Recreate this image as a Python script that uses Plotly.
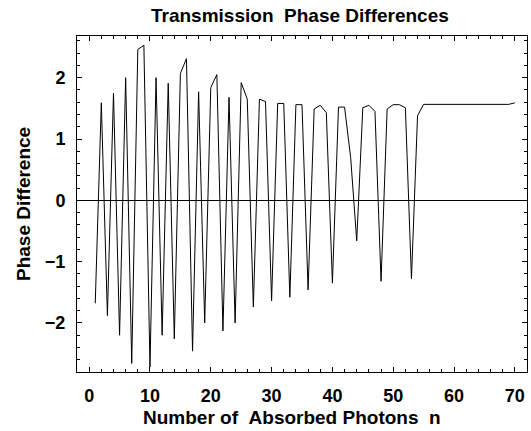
import plotly.graph_objects as go

n_values = list(range(1, 71))
phase_diff = [
    -1.68, 1.59, -1.88, 1.75, -2.20, 2.00, -2.66, 2.46, 2.53, -2.72,
    2.00, -2.20, 1.91, -2.26, 2.07, 2.31, -2.46, 1.77, -2.00, 1.84,
    2.05, -2.13, 1.68, -2.00, 1.92, 1.65, -1.74, 1.65, 1.61, -1.64,
    1.58, 1.58, -1.58, 1.56, 1.56, -1.46, 1.49, 1.55, 1.43, -1.35,
    1.52, 1.52, 0.70, -0.66, 1.51, 1.55, 1.45, -1.32, 1.49, 1.56,
    1.56, 1.51, -1.28, 1.38, 1.565, 1.565, 1.565, 1.565, 1.565, 1.565,
    1.565, 1.565, 1.565, 1.565, 1.565, 1.565, 1.565, 1.565, 1.565, 1.59,
]
x_ticks = [0, 10, 20, 30, 40, 50, 60, 70]
y_ticks = [-2, -1, 0, 1, 2]
y_tick_labels = ["\u22122", "\u22121", "0", "1", "2"]

title_text = "Transmission\u00a0\u00a0Phase Differences"
x_title = "Number of\u00a0\u00a0Absorbed Photons\u00a0\u00a0n"
y_title = "Phase Difference"

FONT = "Liberation Sans, Arial, sans-serif"
FS_TICK = 18
FS_TITLE = 19

fig = go.Figure()
fig.add_trace(go.Scatter(
    x=n_values, y=phase_diff, mode="lines",
    line=dict(color="black", width=1), showlegend=False, hoverinfo="skip",
))

axis_common = dict(
    showgrid=False, showline=True, linecolor="black", linewidth=1,
    mirror="allticks", ticks="inside", tickcolor="black", tickwidth=1,
    ticklen=5,
    tickfont=dict(family=FONT, size=FS_TICK, color="black", weight="bold"),
)

fig.update_layout(
    width=531, height=431,
    margin=dict(l=77, r=4, t=36, b=59),
    paper_bgcolor="white", plot_bgcolor="white",
    xaxis=dict(range=[-2, 72], tickvals=x_ticks, zeroline=False,
               minor=dict(dtick=2, tick0=0, ticks="inside", ticklen=3,
                          tickcolor="black", showgrid=False),
               ticklabelstandoff=7, **axis_common),
    yaxis=dict(range=[-2.8, 2.68], tickvals=y_ticks, ticktext=y_tick_labels,
               zeroline=True, zerolinecolor="black", zerolinewidth=1,
               minor=dict(dtick=0.2, tick0=0, ticks="inside", ticklen=3,
                          tickcolor="black", showgrid=False),
               ticklabelstandoff=7, **axis_common),
    annotations=[
        dict(text=title_text, xref="paper", yref="paper", x=0.5, y=1,
             yshift=21, xshift=-2, xanchor="center", yanchor="middle",
             showarrow=False,
             font=dict(family=FONT, size=FS_TITLE, color="black", weight="bold")),
        dict(text=x_title, xref="paper", yref="paper", x=0.5, y=0,
             yshift=-45, xshift=-10, xanchor="center", yanchor="middle",
             showarrow=False,
             font=dict(family=FONT, size=FS_TITLE, color="black", weight="bold")),
        dict(text=y_title, xref="paper", yref="paper", x=0, y=0.5,
             xshift=-54, xanchor="center", yanchor="middle", showarrow=False,
             textangle=-90,
             font=dict(family=FONT, size=FS_TITLE, color="black", weight="bold")),
    ],
)

fig.write_html(
    "out.html",
    config={"displayModeBar": False},
    post_script="document.body.style.margin='0';document.body.style.overflow='hidden';",
)
